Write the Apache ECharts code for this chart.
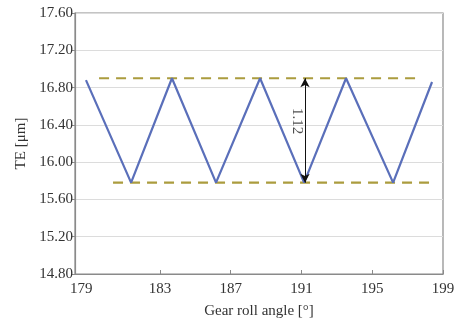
<!DOCTYPE html>
<html>
<head>
<meta charset="utf-8">
<script src="https://cdn.jsdelivr.net/npm/echarts@6/dist/echarts.min.js"></script>
<style>
  html, body { margin: 0; padding: 0; background: #fff; }
  #chart { width: 460px; height: 324px; }
</style>
</head>
<body>
<div id="chart"></div>
<script>
// Transmission error over gear roll angle
var rollAngle = [178.82, 181.37, 183.68, 186.17, 188.66, 191.15, 193.52, 196.18, 198.38];
var teValues  = [16.88, 15.78, 16.90, 15.78, 16.90, 15.78, 16.90, 15.78, 16.86];

// Envelope (max / min) reference lines
var upperLevel = 16.90;
var lowerLevel = 15.78;
var upperSpan = [179.56, 197.59];
var lowerSpan = [180.35, 198.27];

// Peak-to-peak annotation
var spanAngle = 191.2;
var spanText = '1.12';

// Axis tick labels
var xTicks = [179, 183, 187, 191, 195, 199];

var fontFam = '"Liberation Serif", "DejaVu Serif", serif';

var linePts = rollAngle.map(function (a, i) { return [a, teValues[i]]; });

var chart = echarts.init(document.getElementById('chart'));
chart.setOption({
  animation: false,
  backgroundColor: '#ffffff',
  grid: {
    left: 75, right: 17, top: 13, bottom: 44,
    show: true, borderColor: '#8a8a8a', borderWidth: 1.2
  },
  xAxis: {
    type: 'value',
    min: 178.2, max: 199,
    name: 'Gear roll angle [°]',
    nameLocation: 'middle',
    nameGap: 30,
    nameTextStyle: { fontFamily: fontFam, fontSize: 15, color: '#333' },
    axisLine: { show: true, lineStyle: { color: '#8a8a8a', width: 1.2 } },
    axisTick: { show: true, inside: true, length: 4, lineStyle: { color: '#8a8a8a' },
      customValues: xTicks.slice(1) },
    axisLabel: {
      customValues: xTicks,
      fontFamily: fontFam, fontSize: 15, color: '#333', margin: 8,
      formatter: function (v) {
        return v === xTicks[0] ? '{first|' + v + '}' : String(v);
      },
      rich: { first: { fontFamily: fontFam, fontSize: 15, color: '#333', padding: [0, 16, 0, 0] } }
    },
    splitLine: { show: false }
  },
  yAxis: {
    type: 'value',
    min: 14.8, max: 17.6, interval: 0.4,
    name: 'TE [μm]',
    nameLocation: 'middle',
    nameGap: 45,
    nameTextStyle: { fontFamily: fontFam, fontSize: 15, color: '#333' },
    axisLine: { show: true, lineStyle: { color: '#8a8a8a', width: 1.2 } },
    axisTick: { show: true, inside: false, length: 4, lineStyle: { color: '#8a8a8a' } },
    axisLabel: {
      fontFamily: fontFam, fontSize: 15, color: '#333', margin: 2,
      formatter: function (v) { return v.toFixed(2); }
    },
    splitLine: { show: true, lineStyle: { color: '#dcdcdc', width: 1 } }
  },
  series: [
    {
      name: 'upper',
      type: 'line',
      data: [[upperSpan[0], upperLevel], [upperSpan[1], upperLevel]],
      symbol: 'none',
      lineStyle: { color: '#ab9c3e', width: 2.2, type: [10, 7] },
      z: 2
    },
    {
      name: 'lower',
      type: 'line',
      data: [[lowerSpan[0], lowerLevel], [lowerSpan[1], lowerLevel]],
      symbol: 'none',
      lineStyle: { color: '#ab9c3e', width: 2.2, type: [10, 7] },
      z: 2
    },
    {
      name: 'TE',
      type: 'line',
      data: linePts,
      symbol: 'none',
      lineStyle: { color: '#5a6fba', width: 2.2 },
      z: 3,
      markLine: {
        silent: true,
        symbol: ['arrow', 'arrow'],
        symbolSize: [7, 9],
        lineStyle: { color: '#111', width: 1, type: 'solid' },
        label: { show: false },
        data: [[{ coord: [spanAngle, upperLevel] }, { coord: [spanAngle, lowerLevel] }]]
      }
    },
    {
      name: 'span',
      type: 'scatter',
      data: [[spanAngle, (upperLevel + lowerLevel) / 2 + 0.1]],
      symbolSize: 0,
      label: {
        show: true,
        formatter: spanText,
        position: [-8, 0],
        rotate: -90,
        align: 'center',
        verticalAlign: 'middle',
        fontFamily: fontFam, fontSize: 15, color: '#222'
      },
      z: 4
    }
  ]
});
</script>
</body>
</html>
